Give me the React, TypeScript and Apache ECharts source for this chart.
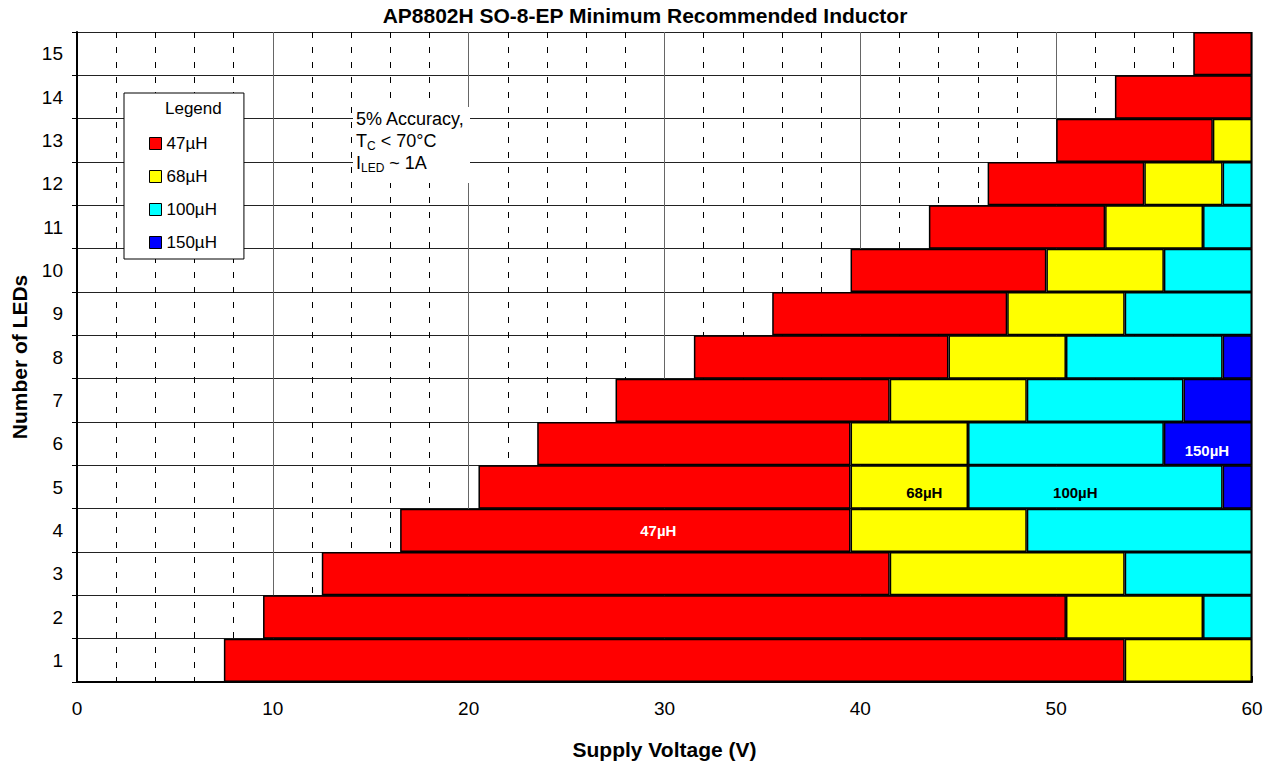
import React, { useEffect, useRef } from "react";
import * as echarts from "echarts";

const ledCounts = ["1", "2", "3", "4", "5", "6", "7", "8", "9", "10", "11", "12", "13", "14", "15"];
// Voltage at which each inductor zone begins / ends (V), per LED count
const redStart = [7.5, 9.5, 12.5, 16.5, 20.5, 23.5, 27.5, 31.5, 35.5, 39.5, 43.5, 46.5, 50, 53, 57];
const end47 = [53.5, 50.5, 41.5, 39.5, 39.5, 39.5, 41.5, 44.5, 47.5, 49.5, 52.5, 54.5, 58, 60, 60];
const end68 = [60, 57.5, 53.5, 48.5, 45.5, 45.5, 48.5, 50.5, 53.5, 55.5, 57.5, 58.5, 60, 60, 60];
const end100 = [60, 60, 60, 60, 58.5, 55.5, 56.5, 58.5, 60, 60, 60, 60, 60, 60, 60];
const end150 = [60, 60, 60, 60, 60, 60, 60, 60, 60, 60, 60, 60, 60, 60, 60];
const inductors = ["47µH", "68µH", "100µH", "150µH"];
const colors = ["#FF0000", "#FFFF00", "#00FFFF", "#0000FF"];
const xTicks = [0, 10, 20, 30, 40, 50, 60];

const FONT = "'Liberation Sans', Arial, sans-serif";

export default function App() {
  const ref = useRef<HTMLDivElement>(null);
  useEffect(() => {
    if (!ref.current) return;
    const chart = echarts.init(ref.current, null, { renderer: "svg" });
    const ends = [end47, end68, end100, end150];
    const prevs = [redStart, end47, end68, end100];
    const widths = ends.map((e, k) =>
      e.map((v, i) => {
        const w = +(v - prevs[k][i]).toFixed(3);
        return w > 0 ? w : null;
      })
    );
    // labelled zones: [seriesIndex, rowIndex, textColor, offset]
    const labelled: [number, number, string, number[]][] = [
      [0, 3, "#fff", [33, 0]],
      [1, 4, "#000", [15, 5]],
      [2, 4, "#000", [-20, 5]],
      [3, 5, "#fff", [-1, 7]],
    ];
    const series: any[] = [
      {
        name: "base",
        type: "bar",
        stack: "v",
        silent: true,
        itemStyle: { color: "rgba(0,0,0,0)" },
        data: redStart,
        barCategoryGap: "0%",
      },
    ];
    inductors.forEach((name, k) => {
      series.push({
        name,
        type: "bar",
        stack: "v",
        barCategoryGap: "0%",
        itemStyle: { color: colors[k], borderColor: "#000", borderWidth: 1.5 },
        data: widths[k].map((w, i) => {
          const l = labelled.find((x) => x[0] === k && x[1] === i);
          if (!l || w == null) return w;
          return {
            value: w,
            label: {
              show: true,
              position: "inside",
              formatter: name,
              color: l[2],
              fontWeight: "bold",
              fontSize: 15,
              fontFamily: FONT,
              offset: l[3],
            },
          };
        }),
        z: 3,
      });
    });
    chart.setOption({
      animation: false,
      backgroundColor: "#fff",
      textStyle: { fontFamily: FONT },
      title: {
        text: "AP8802H SO-8-EP Minimum Recommended Inductor",
        left: 640,
        textAlign: "center",
        top: 0,
        textStyle: { fontSize: 21, fontWeight: "bold", color: "#000", fontFamily: FONT },
      },
      grid: { left: 77, right: 21, top: 32, bottom: 85, containLabel: false },
      legend: {
        data: inductors,
        orient: "vertical",
        left: 124,
        top: 93,
        padding: [42, 27, 8, 25],
        itemGap: 16,
        itemWidth: 12,
        itemHeight: 12,
        itemStyle: { borderColor: "#000", borderWidth: 1 },
        icon: "rect",
        backgroundColor: "#fff",
        borderColor: "#000",
        borderWidth: 1,
        textStyle: { fontSize: 17, color: "#000", fontFamily: FONT },
        selectedMode: false,
        z: 10,
      },
      xAxis: {
        type: "value",
        min: xTicks[0],
        max: xTicks[xTicks.length - 1],
        interval: 10,
        name: "Supply Voltage (V)",
        nameLocation: "middle",
        nameGap: 57,
        nameTextStyle: { fontSize: 21, fontWeight: "bold", color: "#000", fontFamily: FONT },
        axisLine: { show: true, lineStyle: { color: "#000", width: 2 } },
        axisTick: { show: true, inside: true, length: 6, lineStyle: { color: "#000" } },
        minorTick: { show: true, splitNumber: 5, length: 4, lineStyle: { color: "#000" } },
        axisLabel: { fontSize: 19, color: "#000", margin: 17, fontFamily: FONT },
        splitLine: { show: true, lineStyle: { color: "#666", width: 1 } },
        minorSplitLine: { show: true, lineStyle: { color: "#000", width: 1, type: [6, 9] } },
      },
      yAxis: {
        type: "category",
        data: ledCounts,
        boundaryGap: true,
        name: "Number of LEDs",
        nameLocation: "middle",
        nameGap: 47,
        nameTextStyle: { fontSize: 21, fontWeight: "bold", color: "#000", fontFamily: FONT },
        axisLine: { show: true, lineStyle: { color: "#000", width: 2 } },
        axisTick: { show: true, inside: false, length: 5, lineStyle: { color: "#000" } },
        axisLabel: { fontSize: 19, color: "#000", margin: 14, fontFamily: FONT },
        splitLine: { show: true, lineStyle: { color: "#222", width: 1 } },
      },
      graphic: [
        {
          type: "text",
          left: 165,
          top: 100,
          z: 20,
          style: { text: "Legend", font: `17px ${FONT}`, fill: "#000" },
        },
        {
          type: "rect",
          shape: { x: 353, y: 107, width: 117, height: 76 },
          style: { fill: "#fff" },
          z: 5,
        },
        {
          type: "text",
          x: 356,
          y: 108,
          z: 6,
          style: {
            text: "5% Accuracy,\nT{s|C} < 70°C\nI{s|LED} ~ 1A",
            font: `18px ${FONT}`,
            fill: "#000",
            lineHeight: 22,
            rich: {
              s: { fontSize: 12, fontFamily: FONT, verticalAlign: "bottom", padding: [6, 0, 0, 0], lineHeight: 22 },
            },
          },
        },
      ],
      series,
    });
    return () => chart.dispose();
  }, []);
  return <div ref={ref} style={{ position: "fixed", left: 0, top: 0, width: 1273, height: 767 }} />;
}
